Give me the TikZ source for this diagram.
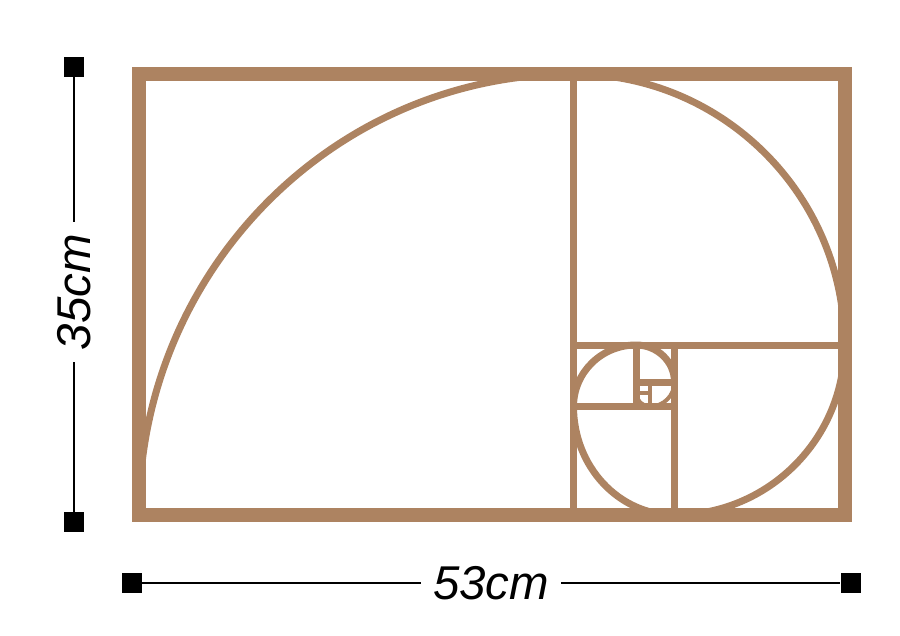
\documentclass[tikz,border=0pt]{standalone}
\usepackage{fontspec}
\setsansfont{Liberation Sans}
\definecolor{bronze}{RGB}{173,131,97}
\tikzset{
  frame/.style={draw=bronze,line width=0.28cm},
  bar/.style={draw=bronze,line width=0.14cm},
  thinbar/.style={draw=bronze,line width=0.08cm},
  tick/.style={fill=black,minimum size=0.4cm,inner sep=0pt},
  dim/.style={line width=0.05cm},
  size/.style={font=\sffamily\itshape\fontsize{27}{27}\selectfont,inner sep=0.24cm}
}
\begin{document}
\begin{tikzpicture}[x=0.02cm,y=-0.02cm]
\useasboundingbox (0,0) rectangle (900,636);
\draw[frame] (139,74) rectangle (844.5,515);
\foreach \xa/\ya/\xb/\yb in {573.5/74/573.5/515,573.5/345/844.5/345,674.5/345/674.5/515,573.5/406.5/674.5/406.5,636/345/636/406.5,636/382/674.5/382}
{
    \draw[bar] (\xa,\ya)--(\xb,\yb);
}
\foreach \xa/\ya/\xb/\yb in {650/382/650/406.5,636/392.5/650/392.5}
{
    \draw[thinbar] (\xa,\ya)--(\xb,\yb);
}
\foreach \cx/\cy/\rx/\ry/\a/\b in {573.5/515/434.5/441/180/270,573.5/345/271/271/270/360,674.5/345/170/170/0/90,674.5/406.5/101/108.5/90/180,636/406.5/62.5/61.5/180/270,636/382/38.5/37/270/360}
{
    \draw[bar] ({\cx+\rx*cos(\a)},{\cy+\ry*sin(\a)}) arc[start angle=\a,end angle=\b,x radius=\rx,y radius=\ry];
}
\foreach \cx/\cy/\r/\a/\b in {650/382/24.5/0/90,650/392.5/14/90/180}
{
    \draw[thinbar] ({\cx+\r*cos(\a)},{\cy+\r*sin(\a)}) arc[start angle=\a,end angle=\b,radius=\r];
}
\node[tick] (vtop) at (74,67){};
\node[tick] (vbot) at (74,522){};
\node[size,rotate=90] (v35) at (74,292){35cm};
\draw[dim] (vtop)--(v35)--(vbot);
\node[tick] (hleft) at (132,583){};
\node[tick] (hright) at (850.5,583){};
\node[size] (h53) at (491,583){53cm};
\draw[dim] (hleft)--(h53)--(hright);
\end{tikzpicture}
\end{document}
